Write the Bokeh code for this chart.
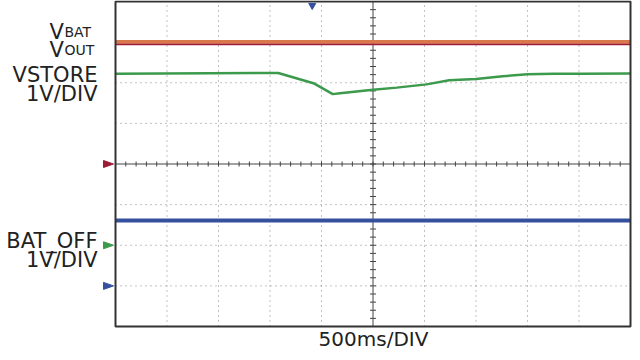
import numpy as np
from bokeh.plotting import figure
from bokeh.models import Range1d
from bokeh.core.properties import value
from bokeh.embed import file_html
from bokeh.resources import INLINE

# ---------------- data (read from the scope capture) ----------------
time_flat_s = [-2.5, 2.5]
vbat_v = [3.01, 3.01]
vout_v = [2.95, 2.95]
bat_off_v = [1.61, 1.61]

vstore_t_s = [-2.5, -0.92, -0.57, -0.39, -0.32, 0.0, 0.23, 0.52, 0.74, 1.0,
              1.26, 1.5, 1.76, 2.02, 2.5]
vstore_v = [4.22, 4.24, 3.98, 3.72, 3.74, 3.83, 3.88, 3.96, 4.06, 4.09,
            4.16, 4.21, 4.22, 4.22, 4.23]

trigger_t_s = -0.59

# scope settings
SEC_PER_DIV = 0.5
VOLT_PER_DIV = 1.0
N_HDIV = 10
N_VDIV = 8
gnd_red_div = 0.0     # VBAT / VOUT ground marker
gnd_green_div = -2.0  # VSTORE ground marker
gnd_blue_div = -3.0   # BAT_OFF ground marker

# ---------------- styles / layout ----------------
C_ORANGE = "#d9784c"
C_RED = "#9e1b34"
C_GREEN = "#3c9a4c"
C_BLUE = "#34509f"
C_TEXT = "#222222"
C_AX = "#444444"
C_GRID = "#858585"
FONT = "DejaVu Sans"

W, H = 632, 352
BOX_L, BOX_R, BOX_T, BOX_B = 115, 630, 1, 326      # screen box, pixels
PX_PER_S = (BOX_R - BOX_L) / (N_HDIV * SEC_PER_DIV)
PX_PER_DIV = (BOX_B - BOX_T) / N_VDIV

XMIN = -N_HDIV / 2 * SEC_PER_DIV
XMAX = N_HDIV / 2 * SEC_PER_DIV
YTOP = N_VDIV / 2
YBOT = -N_VDIV / 2

x_lo = XMIN - BOX_L / PX_PER_S
x_hi = XMAX + (W - BOX_R) / PX_PER_S
y_hi = YTOP + BOX_T / PX_PER_DIV
y_lo = y_hi - H / PX_PER_DIV

def tx(px):
    return x_lo + px / PX_PER_S

def ty(py):
    return y_hi - py / PX_PER_DIV

p = figure(width=W, height=H, x_range=Range1d(x_lo, x_hi), y_range=Range1d(y_lo, y_hi),
           x_axis_type=None, y_axis_type=None,
           min_border=0, toolbar_location=None, output_backend="svg")
p.outline_line_color = None
p.background_fill_color = "white"
p.border_fill_color = "white"

# dotted graticule
xg = [XMIN + k * SEC_PER_DIV for k in range(1, N_HDIV) if k != N_HDIV // 2]
yg = [YBOT + k for k in range(1, N_VDIV) if k != N_VDIV // 2]
p.segment(x0=xg, y0=YBOT, x1=xg, y1=YTOP, line_color=C_GRID, line_dash="1 4", line_width=1)
p.segment(x0=XMIN, y0=yg, x1=XMAX, y1=yg, line_color=C_GRID, line_dash="1 4", line_width=1)

# centre cross with minor ticks
p.segment(x0=[XMIN, 0], y0=[0, YBOT], x1=[XMAX, 0], y1=[0, YTOP], line_color=C_AX, line_width=1)
mx = np.arange(XMIN, XMAX + 1e-9, SEC_PER_DIV / 5)
hy = 2.5 / PX_PER_DIV
p.segment(x0=mx, y0=-hy, x1=mx, y1=hy, line_color=C_AX, line_width=1)
my = np.arange(YBOT, YTOP + 1e-9, 0.2)
hx = 3.0 / PX_PER_S
p.segment(x0=-hx, y0=my, x1=hx, y1=my, line_color=C_AX, line_width=1)

# traces
p.line(time_flat_s, [v / VOLT_PER_DIV + gnd_red_div for v in vout_v],
       line_color=C_RED, line_width=2)
p.line(time_flat_s, [v / VOLT_PER_DIV + gnd_red_div for v in vbat_v],
       line_color=C_ORANGE, line_width=3.5)
p.line(vstore_t_s, [v / VOLT_PER_DIV + gnd_green_div for v in vstore_v],
       line_color=C_GREEN, line_width=2.5)
p.line(time_flat_s, [v / VOLT_PER_DIV + gnd_blue_div for v in bat_off_v],
       line_color=C_BLUE, line_width=4)

# screen border
p.quad(left=XMIN, right=XMAX, bottom=YBOT, top=YTOP, fill_color=None,
       line_color="#333333", line_width=2)

# trigger marker
p.scatter([trigger_t_s], [YTOP - 4 / PX_PER_DIV], marker="inverted_triangle",
          size=7, fill_color=C_BLUE, line_color=C_BLUE)

# channel ground markers (left of the screen)
hh = 3.5 / PX_PER_DIV
gnds = [gnd_red_div, gnd_green_div, gnd_blue_div]
p.patches(xs=[[tx(103), tx(103), tx(113)] for _ in gnds],
          ys=[[g - hh, g + hh, g] for g in gnds],
          fill_color=[C_RED, C_GREEN, C_BLUE], line_color=[C_RED, C_GREEN, C_BLUE])

# labels (positions are text baselines in pixels, corrected for render offset)
def lab(text, px, py, size="21px", align="right"):
    p.text(x=[tx(px)], y=[ty(py)], text=[text], text_font=value(FONT),
           text_font_size=size, text_color=C_TEXT, text_align=align,
           text_baseline="alphabetic")

lab("V", 49, 31.5, align="left")
lab("BAT", 64, 31.5, size="14px", align="left")
lab("V", 49, 49, align="left")
lab("OUT", 64, 49, size="14px", align="left")
lab("VSTORE", 97, 74)
lab("1V/DIV", 97, 93)
lab("BAT_OFF", 97, 240)
lab("1V/DIV", 97, 259)
lab("500ms/DIV", 373, 338, size="20px", align="center")

open("out.html", "w").write(file_html(p, INLINE))
